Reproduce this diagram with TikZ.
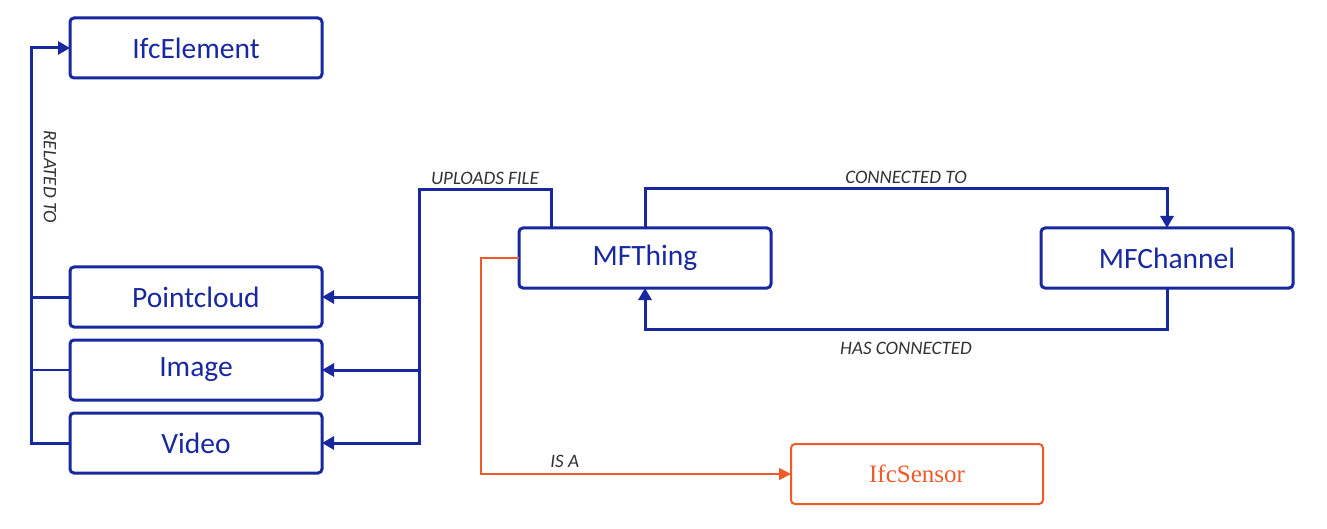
\documentclass[tikz,border=0pt]{standalone}
\usepackage{fontspec}
\setmainfont{Carlito}
\newfontfamily\sensorfont{Liberation Serif}
\usetikzlibrary{arrows.meta,positioning,calc}
\definecolor{mfblue}{RGB}{24,40,158}
\definecolor{mforange}{RGB}{240,90,40}
\definecolor{mfgray}{RGB}{50,50,50}

\begin{document}
\begin{tikzpicture}[x=1pt,y=-1pt,
		entity/.style={draw=mfblue,
			line width=3pt,
			rounded corners=4pt,
			minimum width=252pt,
			minimum height=60pt,
			outer sep=0pt,
			text=mfblue,
			font=\fontsize{29.5}{33}\selectfont},
		sensor/.style={entity,
			draw=mforange,
			line width=2pt,
			text=mforange,
			font=\sensorfont\fontsize{25}{30}\selectfont},
		rel/.style={draw=mfblue,
			line width=3pt,
			-{Triangle[length=12pt,width=13pt]}},
		isa/.style={draw=mforange,
			line width=1.6pt,
			-{Triangle[length=12pt,width=12pt]}},
		lbl/.style={text=mfgray,
			font=\itshape\fontsize{19}{22}\selectfont}]
		\useasboundingbox (0,0) rectangle (1327,529);

		\node[entity] (ifcelement) at (196,48) {IfcElement};

		\node[entity] (pointcloud) at (196,297) {Pointcloud};

		\node[entity,
			below=13pt of pointcloud] (image) {Image};

		\node[entity,
			below=13pt of image] (video) {Video};

		\node[entity] (mfthing) at (645,258) {MFThing};

		\node[entity,
			right=270pt of mfthing] (mfchannel) {MFChannel};

		\node[sensor] (ifcsensor) at (917,474) {IfcSensor};

		% related to
		\coordinate (relbus) at (31,0);
		\draw[rel] (video.west) -- (video.west -| relbus) |- (ifcelement.west);
		\draw[rel,-] (pointcloud.west) -- (pointcloud.west -| relbus);
		\draw[rel,-,line width=1.3pt] (image.west) -- (image.west -| relbus);
		\node[lbl,rotate=-90] at (50,177) {RELATED TO};

		% uploads file
		\coordinate (upstart) at ([xshift=-94pt]mfthing.north);
		\coordinate (upbus) at (419,190);
		\draw[rel] (upstart) |- node[lbl,above=1pt,pos=0.75] {UPLOADS FILE} (upbus) |- (video.east);
		\draw[rel] (upbus |- pointcloud.east) -- (pointcloud.east);
		\draw[rel] (upbus |- image.east) -- (image.east);

		% thing and channel
		\draw[rel] (mfthing.north) -- ++(0,-39) coordinate (ct)
			-- node[lbl,above=1pt] {CONNECTED TO} (ct -| mfchannel.north)
			-- (mfchannel.north);
		\draw[rel] (mfchannel.south) -- ++(0,41) coordinate (hc)
			-- node[lbl,below=8pt] {HAS CONNECTED} (hc -| mfthing.south)
			-- (mfthing.south);

		% is a
		\draw[isa] (mfthing.west) -- ++(-38,0)
			|- node[lbl,above=2pt,pos=0.635] {IS A} (ifcsensor.west);

	\end{tikzpicture}
\end{document}
